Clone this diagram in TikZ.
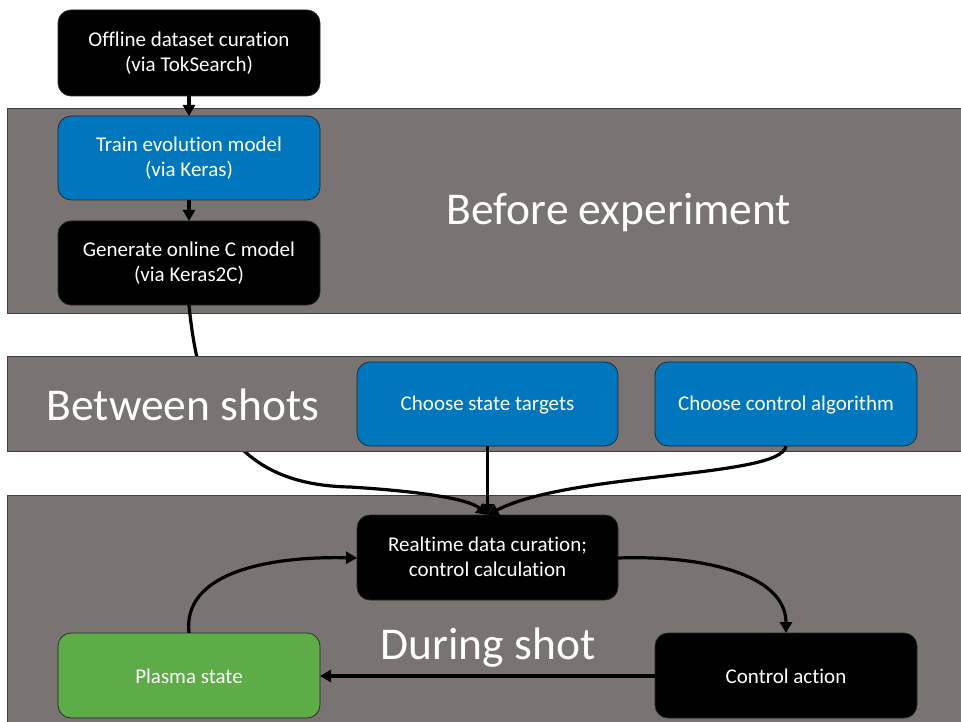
\documentclass[tikz,border=0pt]{standalone}
\usepackage{fontspec}
\setmainfont{Carlito}[Ligatures=NoCommon]
\usetikzlibrary{arrows.meta}
\definecolor{bandgray}{RGB}{121,115,114}
\definecolor{boxblue}{RGB}{0,118,188}
\definecolor{boxgreen}{RGB}{93,172,72}
\begin{document}
\begin{tikzpicture}[x=1pt,y=-1pt,
  band/.style={fill=bandgray,draw=black!75,line width=0.8pt},
  stepbox/.style={rounded corners=13pt,draw=black!85,line width=0.7pt},
  darkbox/.style={stepbox,fill=black},
  bluebox/.style={stepbox,fill=boxblue},
  greenbox/.style={stepbox,fill=boxgreen},
  boxtext/.style={text=white,font=\fontsize{21}{25.5}\selectfont,align=center},
  flow/.style={line width=3.2pt,-{Triangle[length=11pt,width=12pt]}},
  bigtext/.style={text=white,anchor=center,font=\fontsize{45.5}{50}\selectfont}
]
\useasboundingbox (0,0) rectangle (961,722);
\fill[white] (0,0) rectangle (961,722);

% end points of the boxes, used by the connectors
\coordinate (offline-s) at (189,96);
\coordinate (train-n) at (189,116);
\coordinate (train-s) at (189,200);
\coordinate (gen-n) at (189,221);
\coordinate (gen-s) at (189,305);
\coordinate (targ-s) at (487.5,446);
\coordinate (alg-s) at (786,446);
\coordinate (rt-n) at (487.5,515);
\coordinate (rt-w) at (357,558);
\coordinate (rt-e) at (618,558);
\coordinate (plasma-n) at (189,633);
\coordinate (plasma-e) at (320,676);
\coordinate (act-n) at (786,633);
\coordinate (act-w) at (655,676);
\coordinate (genbend) at (350,487);

% outer phase bands
\draw[band] (7,108) rectangle (975,313);
\draw[band] (7,495) rectangle (975,740);

% the model link runs behind the between-shots band
\draw[flow] (gen-s) .. controls (200,420) and (240,485) .. (genbend)
  .. controls (430,492) and (470,500) .. (rt-n);

% between-shots band
\draw[band] (7,356) rectangle (975,451);

% phase labels
\node[bigtext] (lbBefore) at (619,213) {Before experiment};
\node[bigtext] (lbBetween) at (183,405) {Between shots};
\node[bigtext] (lbDuring) at (488,648) {During shot};

% before experiment
\path[darkbox] (58,10) rectangle (320,96);
\node[boxtext] (offtxt) at (189,53) {Offline dataset curation\\(via TokSearch)};

\path[bluebox] (58,116) rectangle (320,200);
\node[boxtext] (traintxt) at (189,158) {Train evolution model\\(via Keras)};

\path[darkbox] (58,221) rectangle (320,305);
\node[boxtext] (gentxt) at (189,263) {Generate online C model\\(via Keras2C)};

% between shots
\path[bluebox] (357,362) rectangle (618,446);
\node[boxtext] (targtxt) at (487.5,405) {Choose state targets};

\path[bluebox] (655,362) rectangle (917,446);
\node[boxtext] (algtxt) at (786,405) {Choose control algorithm};

% during shot
\path[darkbox] (357,515) rectangle (618,600);
\node[boxtext] (rttxt) at (487.5,557) {Realtime data curation;\\control calculation};

\path[greenbox] (58,633) rectangle (320,718);
\node[boxtext] (plasmatxt) at (189,676) {Plasma state};

\path[darkbox] (655,633) rectangle (917,718);
\node[boxtext] (acttxt) at (786,676) {Control action};

% connectors
\draw[flow] (offline-s) -- (train-n);
\draw[flow] (train-s) -- (gen-n);
\draw[flow] (targ-s) -- (rt-n);
\draw[flow] (alg-s) .. controls (782,478) and (570,472) .. (rt-n);
\draw[flow] (rt-e) .. controls (705,555) and (786,575) .. (act-n);
\draw[flow] (plasma-n) .. controls (182,572) and (270,556) .. (rt-w);
\draw[flow] (act-w) -- (plasma-e);
\end{tikzpicture}
\end{document}
